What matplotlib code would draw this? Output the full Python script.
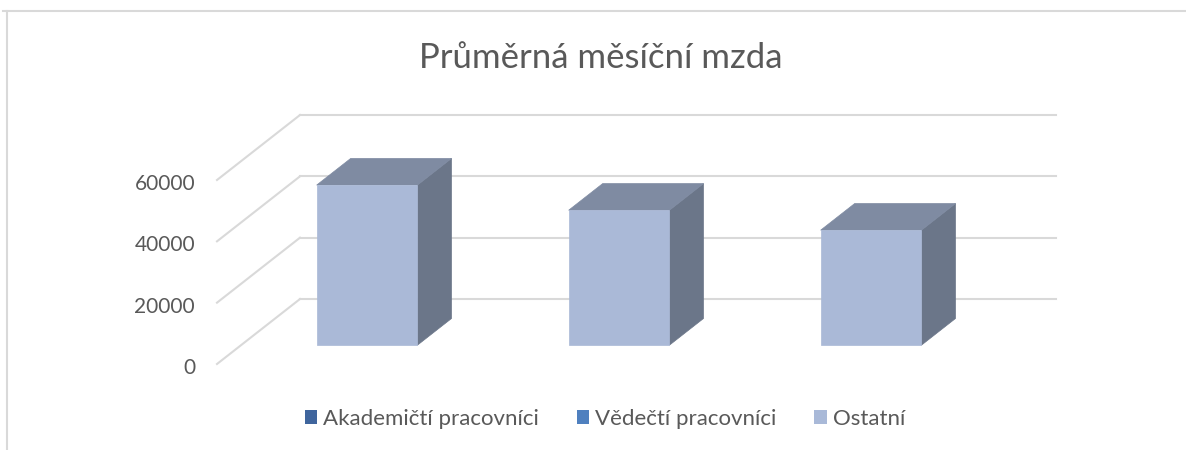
import matplotlib
matplotlib.use('Agg')
import matplotlib.pyplot as plt
from matplotlib.patches import Polygon, Patch
from matplotlib.lines import Line2D

plt.rcParams['font.family'] = ['Lato', 'DejaVu Sans']

# data
categories = ['1', '2', '3']
values = [52200, 44000, 37500]
ticks = [0, 20000, 40000, 60000]
series = ['Akademičtí pracovníci', 'Vědečtí pracovníci', 'Ostatní']
series_colors = ['#3F659D', '#4F80BF', '#A9B9D8']
title = 'Průměrná měsíční mzda'

text_color = '#595959'
grid_color = '#D9D9D9'
front_color = '#AAB9D7'
top_color = '#7F8BA2'
side_color = '#6B7689'

W, H = 1186, 450
fig = plt.figure(figsize=(W / 100, H / 100), dpi=100)
ax = fig.add_axes([0, 0, 1, 1])
ax.axis('off')

# oblique projection set-up (pixel geometry of the plot area)
cat_px = 252.0
left_px = 217.0
zero_px = 364.0
val_px = 184.0 / 60000
ax.set_xlim(-0.5 - left_px / cat_px, -0.5 + (W - left_px) / cat_px)
ax.set_ylim(-(H - zero_px) / val_px, zero_px / val_px)

DX = 83.0 / cat_px      # full depth, category units
DY = 65.0 / val_px      # full depth, value units
t_front = 0.29          # bar front position within depth
d_bar = 0.41            # bar depth fraction
bw = 0.40               # bar width

n = len(categories)
# gridlines: left wall diagonals + back wall horizontals
for v in ticks:
    ax.plot([-0.5, -0.5 + DX], [v, v + DY], color=grid_color, lw=1.5, zorder=1)
    ax.plot([-0.5 + DX, n - 0.5 + DX], [v + DY, v + DY], color=grid_color, lw=1.5, zorder=1)
    ax.text(-0.5 - 22 / cat_px, v - 4 / val_px, str(v), ha='right', va='center',
            fontsize=15, color=text_color)

# bars
for i, v in enumerate(values):
    xc = i + t_front * DX
    y0 = t_front * DY
    xl, xr = xc - bw / 2, xc + bw / 2
    ddx, ddy = d_bar * DX, d_bar * DY
    side = [(xr, y0), (xr + ddx, y0 + ddy), (xr + ddx, y0 + v + ddy), (xr, y0 + v)]
    top = [(xl, y0 + v), (xr, y0 + v), (xr + ddx, y0 + v + ddy), (xl + ddx, y0 + v + ddy)]
    ax.add_patch(Polygon(side, closed=True, fc=side_color, ec=side_color, lw=0.5, zorder=3))
    ax.add_patch(Polygon(top, closed=True, fc=top_color, ec=top_color, lw=0.5, zorder=3))
    ax.add_patch(Polygon([(xl, y0), (xr, y0), (xr, y0 + v), (xl, y0 + v)], closed=True,
                         fc=front_color, ec=front_color, lw=0.5, zorder=4))

fig.text(601 / W, 1 - 58 / H, title, ha='center', va='center', fontsize=25, color=text_color)

handles = [Patch(facecolor=c, edgecolor='none', label=s) for s, c in zip(series, series_colors)]
fig.legend(handles=handles, loc='center', bbox_to_anchor=(605 / W, 1 - 419 / H), ncol=3,
           frameon=False, fontsize=16, labelcolor=text_color, handlelength=0.55,
           handleheight=0.55, handletextpad=0.27, columnspacing=1.7)

# chart frame
fig.add_artist(Line2D([3 / W, 1], [1 - 11 / H, 1 - 11 / H], color=grid_color, lw=1.5))
fig.add_artist(Line2D([7 / W, 7 / W], [1 - 11 / H, 0], color=grid_color, lw=1.5))

fig.savefig('out.png', dpi=100, facecolor='white')
